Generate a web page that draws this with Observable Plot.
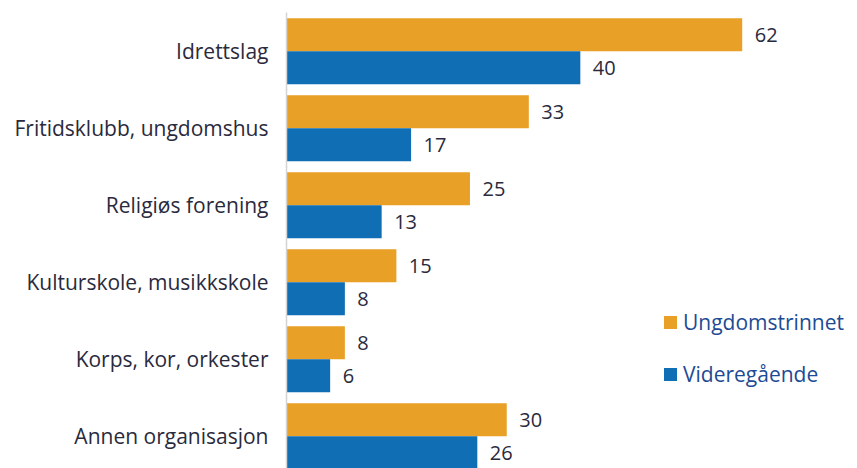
<!DOCTYPE html>
<html><head><meta charset="utf-8">
<script src="https://cdn.jsdelivr.net/npm/d3@7"></script>
<script src="https://cdn.jsdelivr.net/npm/@observablehq/plot@0.6"></script>
<style>
html,body{margin:0;padding:0;background:#fff;overflow:hidden;}
#wrap{position:relative;width:857px;height:468px;overflow:hidden;}
.legend{position:absolute;left:664px;font-family:"Open Sans",sans-serif;font-size:21px;line-height:28px;color:#1c4b94;display:flex;align-items:center;white-space:nowrap;}
.legend span.sw{display:inline-block;width:13px;height:13px;margin-right:6px;}
</style>
</head><body>
<div id="wrap"></div>
<script>
const categories = ["Idrettslag","Fritidsklubb, ungdomshus","Religiøs forening","Kulturskole, musikkskole","Korps, kor, orkester","Annen organisasjon"];
const series = ["Ungdomstrinnet","Videregående"];
const ungdomstrinnet = [62,33,25,15,8,30];
const videregaende = [40,17,13,8,6,26];
const colors = ["#E9A027","#106EB5"];

const data = [];
categories.forEach((c,i)=>{
  data.push({cat:c, series:series[0], value:ungdomstrinnet[i]});
  data.push({cat:c, series:series[1], value:videregaende[i]});
});

const chart = Plot.plot({
  width: 857, height: 480,
  marginLeft: 286, marginRight: 0, marginTop: 11.75, marginBottom: 3.25,
  style: {fontFamily: "'Open Sans', sans-serif", fontSize: "20px", color: "#2a2a3c", background: "#fff"},
  x: {domain: [0, 77.6], axis: null},
  y: {domain: series, padding: 0, axis: null},
  fy: {domain: categories, paddingInner: 0.135, paddingOuter: 0.0675, axis: null},
  color: {domain: series, range: colors},
  marks: [
    Plot.axisFy({anchor: "left", tickSize: 0, tickPadding: 18, label: null, fontSize: 21, fill: "#2a2a3c"}),
    Plot.barX(data, {fy: "cat", y: "series", x: "value", fill: "series"}),
    Plot.text(data, {fy: "cat", y: "series", x: "value", text: d => String(d.value), dx: 12, textAnchor: "start", fill: "#2a2a3c", fontSize: 20}),
    Plot.ruleX([0], {stroke: "#d4d4d4", strokeWidth: 1.5, insetTop: -5.5, insetBottom: -5.5})
  ]
});
const wrap = document.getElementById("wrap");
wrap.appendChild(chart);
series.forEach((s,i)=>{
  const d = document.createElement("div");
  d.className = "legend";
  d.style.top = (i===0 ? 308 : 360) + "px";
  d.innerHTML = `<span class="sw" style="background:${colors[i]}"></span>${s}`;
  wrap.appendChild(d);
});
</script>
</body></html>
